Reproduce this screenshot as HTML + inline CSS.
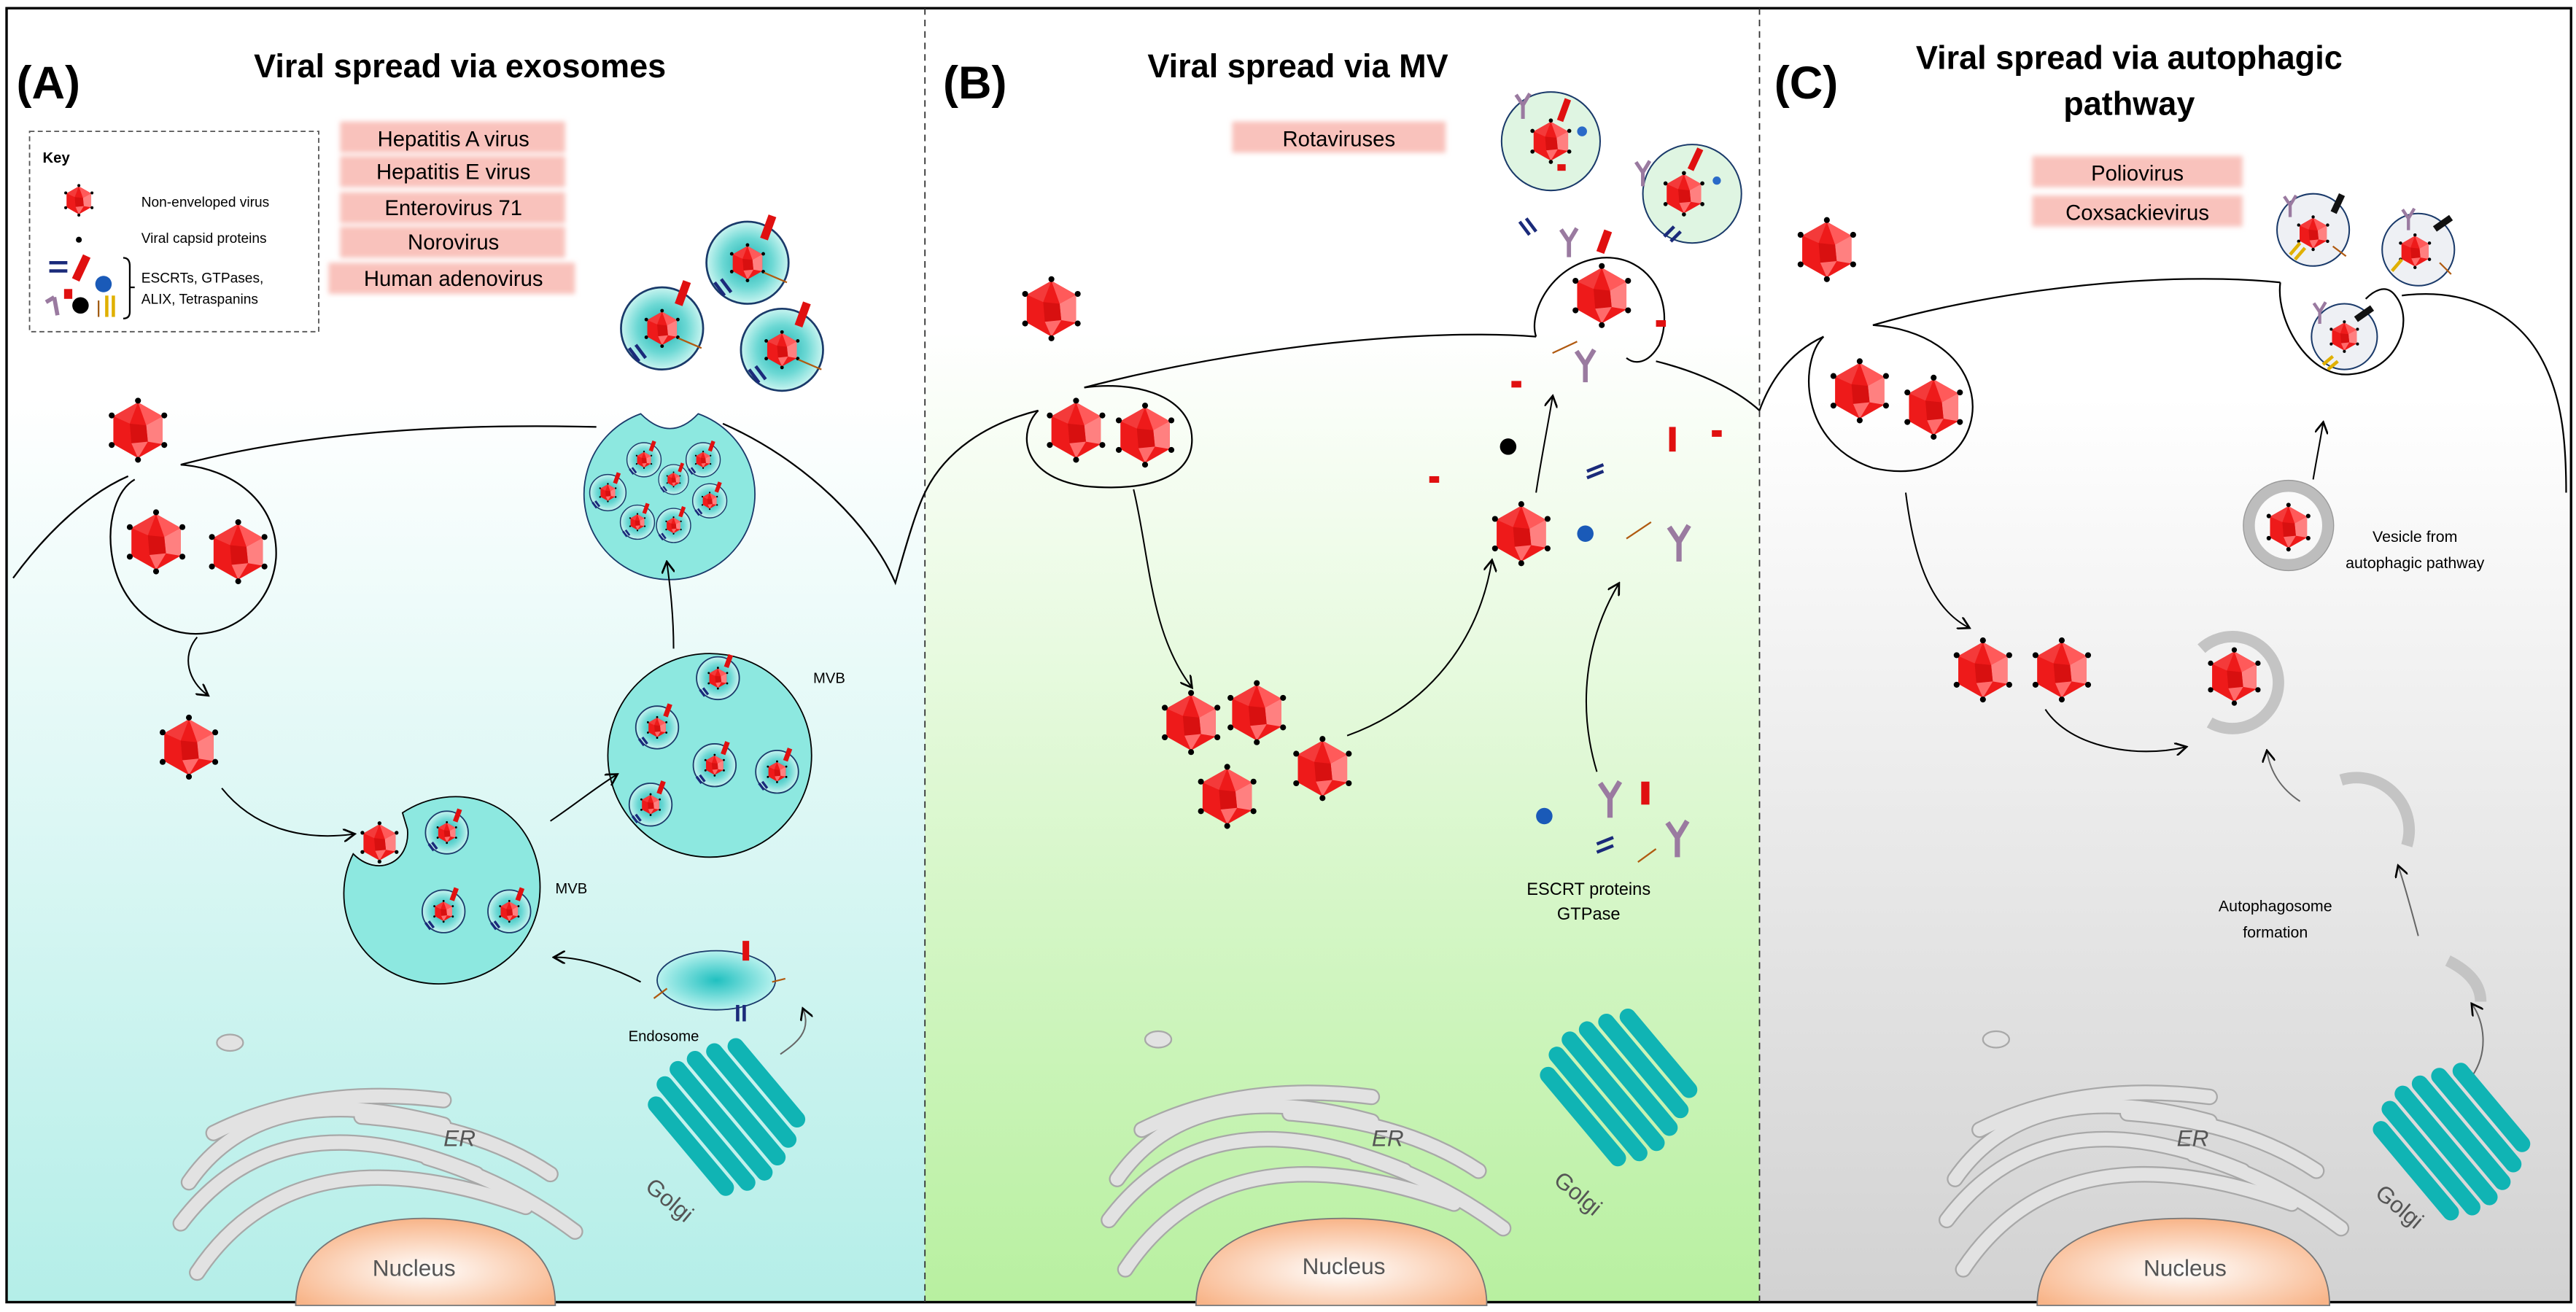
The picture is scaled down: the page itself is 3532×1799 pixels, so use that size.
<!DOCTYPE html>
<html><head><meta charset="utf-8"><style>
html,body{margin:0;padding:0;background:#fff;}
svg{display:block;}
text{font-family:"Liberation Sans",Arial,sans-serif;}
</style></head><body>
<svg width="3532" height="1799" viewBox="0 0 1568 799" preserveAspectRatio="none" xmlns="http://www.w3.org/2000/svg">
<defs>
<linearGradient id="gA" x1="0" y1="0" x2="0" y2="1"><stop offset="0.3" stop-color="#ffffff"/><stop offset="1" stop-color="#b4eee8"/></linearGradient>
<linearGradient id="gB" x1="0" y1="0" x2="0" y2="1"><stop offset="0.25" stop-color="#ffffff"/><stop offset="1" stop-color="#b8f0a0"/></linearGradient>
<linearGradient id="gC" x1="0" y1="0" x2="0" y2="1"><stop offset="0.3" stop-color="#ffffff"/><stop offset="1" stop-color="#d2d2d2"/></linearGradient>
<radialGradient id="gN" cx="0.5" cy="0.6" r="0.6"><stop offset="0" stop-color="#ffffff"/><stop offset="1" stop-color="#f8b488"/></radialGradient>
<radialGradient id="gT" cx="0.5" cy="0.5" r="0.5"><stop offset="0" stop-color="#20c0c0"/><stop offset="1" stop-color="#b8f2ee"/></radialGradient>
<radialGradient id="gT2" cx="0.5" cy="0.5" r="0.5"><stop offset="0" stop-color="#18b0b0"/><stop offset="0.6" stop-color="#6cd8d4"/><stop offset="1" stop-color="#c8f4f0"/></radialGradient>
<filter id="blur"><feGaussianBlur stdDeviation="1.5"/></filter>
<marker id="ar" markerWidth="8" markerHeight="8" refX="6" refY="4" orient="auto" markerUnits="userSpaceOnUse"><path d="M0,0 L7,4 L0,8" fill="none" stroke="#000" stroke-width="1.2"/></marker>
<g id="v">
<polygon points="0,-17 15,-8.5 15,8.5 0,17 -15,8.5 -15,-8.5" fill="#ee1a1a"/>
<polygon points="0,-17 15,-8.5 5,-3" fill="#ff5a5a"/>
<polygon points="5,-3 15,-8.5 15,8.5 6,7" fill="#ff8080"/>
<polygon points="-15,-8.5 0,-17 -5,-4" fill="#f43a3a"/>
<polygon points="-5,-4 5,-3 6,7 -4,8" fill="#d81010"/>
<polygon points="-4,8 6,7 0,17" fill="#ff6b6b"/>
<circle cx="0" cy="-18" r="1.8" fill="#000"/><circle cx="16" cy="-9" r="1.8" fill="#000"/><circle cx="16" cy="9" r="1.8" fill="#000"/><circle cx="0" cy="18" r="1.8" fill="#000"/><circle cx="-16" cy="9" r="1.8" fill="#000"/><circle cx="-16" cy="-9" r="1.8" fill="#000"/>
</g>
<g id="golgi" fill="#10b4b4">
<rect x="-5" y="-38" width="10" height="76" rx="5" transform="rotate(-40) translate(-28,0)"/>
<rect x="-5" y="-44" width="10" height="88" rx="5" transform="rotate(-40) translate(-16,0)"/>
<rect x="-5" y="-46" width="10" height="92" rx="5" transform="rotate(-40) translate(-4,0)"/>
<rect x="-5" y="-44" width="10" height="88" rx="5" transform="rotate(-40) translate(8,0)"/>
<rect x="-5" y="-40" width="10" height="80" rx="5" transform="rotate(-40) translate(20,0)"/>
<rect x="-5" y="-34" width="10" height="68" rx="5" transform="rotate(-40) translate(32,0)"/>
</g>
<g id="er" fill="none" stroke-linecap="round">
<g stroke="#a8a8a8" stroke-width="10">
<path d="M-110,50 Q-50,-40 90,10"/><path d="M-120,20 Q-60,-60 60,-10"/><path d="M-115,-5 Q-70,-70 40,-40"/><path d="M-100,-35 Q-40,-65 40,-55"/><path d="M-10,-45 Q60,-40 105,-10"/><path d="M30,-20 Q80,-5 120,25"/>
</g>
<g stroke="#e2e2e2" stroke-width="8">
<path d="M-110,50 Q-50,-40 90,10"/><path d="M-120,20 Q-60,-60 60,-10"/><path d="M-115,-5 Q-70,-70 40,-40"/><path d="M-100,-35 Q-40,-65 40,-55"/><path d="M-10,-45 Q60,-40 105,-10"/><path d="M30,-20 Q80,-5 120,25"/>
</g>
<ellipse cx="-90" cy="-90" rx="8" ry="5" fill="#e2e2e2" stroke="#a8a8a8" stroke-width="1"/>
</g>
<g id="ves">
<circle r="25" fill="url(#gT2)" stroke="#1a3a6a" stroke-width="1.2"/>
<g transform="scale(0.6)"><use href="#v"/></g>
<rect x="2" y="-32" width="5" height="15" fill="#e01010" transform="rotate(20)"/>
<line x1="10" y1="6" x2="24" y2="12" stroke="#b05a10" stroke-width="1"/>
<g stroke="#1a2a7a" stroke-width="2"><line x1="-20" y1="12" x2="-14" y2="20"/><line x1="-16" y1="10" x2="-10" y2="18"/></g>
</g>
<g id="mini">
<circle r="13" fill="url(#gT2)" stroke="#1a3a6a" stroke-width="0.8"/>
<g transform="scale(0.35)"><use href="#v"/></g>
<rect x="1" y="-16" width="3" height="8" fill="#e01010" transform="rotate(20)"/>
<g stroke="#1a2a7a" stroke-width="1.5"><line x1="-11" y1="7" x2="-8" y2="11"/><line x1="-9" y1="6" x2="-6" y2="10"/></g>
</g>
<g id="Y"><path d="M0,12 L0,0 L-6,-9 M0,0 L6,-10" stroke="#9a7aa0" stroke-width="3.2" fill="none"/></g>
</defs>

<rect x="4" y="5" width="559" height="788" fill="url(#gA)"/>
<rect x="563" y="5" width="508" height="788" fill="url(#gB)"/>
<rect x="1071" y="5" width="494" height="788" fill="url(#gC)"/>
<rect x="4" y="5" width="1561" height="788" fill="none" stroke="#000" stroke-width="1.5"/>
<line x1="563" y1="5" x2="563" y2="793" stroke="#333" stroke-width="0.8" stroke-dasharray="4,3"/>
<line x1="1071" y1="5" x2="1071" y2="793" stroke="#333" stroke-width="0.8" stroke-dasharray="4,3"/>

<text x="10" y="60" font-size="28" font-weight="bold">(A)</text>
<text x="280" y="47" font-size="20" font-weight="bold" text-anchor="middle">Viral spread via exosomes</text>
<text x="574" y="60" font-size="28" font-weight="bold">(B)</text>
<text x="790" y="47" font-size="20" font-weight="bold" text-anchor="middle">Viral spread via MV</text>
<text x="1080" y="60" font-size="28" font-weight="bold">(C)</text>
<text x="1296" y="42" font-size="20" font-weight="bold" text-anchor="middle">Viral spread via autophagic</text>
<text x="1296" y="70" font-size="20" font-weight="bold" text-anchor="middle">pathway</text>

<g fill="#f9c2bc" filter="url(#blur)">
<rect x="207" y="74" width="137" height="19"/><rect x="207" y="95" width="137" height="19"/><rect x="207" y="117" width="137" height="19"/><rect x="207" y="138" width="137" height="19"/><rect x="200" y="160" width="150" height="19"/>
<rect x="750" y="74" width="130" height="19"/>
<rect x="1237" y="95" width="128" height="19"/><rect x="1237" y="119" width="128" height="19"/>
</g>
<g font-size="13" text-anchor="middle">
<text x="276" y="89">Hepatitis A virus</text><text x="276" y="109">Hepatitis E virus</text><text x="276" y="131">Enterovirus 71</text><text x="276" y="152">Norovirus</text><text x="276" y="174">Human adenovirus</text>
<text x="815" y="89">Rotaviruses</text>
<text x="1301" y="110">Poliovirus</text><text x="1301" y="134">Coxsackievirus</text>
</g>

<rect x="18" y="80" width="176" height="122" fill="#fff" stroke="#555" stroke-width="0.8" stroke-dasharray="3,2"/>
<text x="26" y="99" font-size="9" font-weight="bold">Key</text>
<g transform="translate(48,122) scale(0.5)"><use href="#v"/></g>
<text x="86" y="126" font-size="8.5">Non-enveloped virus</text>
<circle cx="48" cy="146" r="1.8" fill="#000"/>
<text x="86" y="148" font-size="8.5">Viral capsid proteins</text>
<text x="86" y="172" font-size="8.5">ESCRTs, GTPases,</text>
<text x="86" y="185" font-size="8.5">ALIX, Tetraspanins</text>
<g stroke="#1a2a7a" stroke-width="2"><line x1="30" y1="160" x2="41" y2="160"/><line x1="30" y1="165" x2="41" y2="165"/></g>
<rect x="47" y="155" width="5" height="16" fill="#e01010" transform="rotate(25 49 163)"/>
<circle cx="63" cy="173" r="5" fill="#1a5ab8"/>
<rect x="39" y="176" width="5" height="6" fill="#e01010"/>
<circle cx="49" cy="186" r="5" fill="#000"/>
<path d="M35,192 L33,181 M33,181 L28,184" stroke="#9a7aa0" stroke-width="2.5" fill="none"/>
<g stroke="#e0b000" stroke-width="2"><line x1="65" y1="180" x2="65" y2="193"/><line x1="69" y1="180" x2="69" y2="193"/></g>
<line x1="60" y1="183" x2="60" y2="193" stroke="#a05a10" stroke-width="1"/>
<path d="M75,157 Q79,157 79,162 L79,190 Q79,194 75,194 M79,175 L82,175" fill="none" stroke="#000" stroke-width="1"/>

<!-- Panel A -->
<path d="M8,352 C30,322 55,300 78,290" fill="none" stroke="#000" stroke-width="1"/>
<path d="M82,292 C60,305 60,365 100,382 C130,395 165,375 168,340 C170,305 140,285 110,283" fill="none" stroke="#000" stroke-width="1"/>
<path d="M110,283 C190,262 280,258 363,260" fill="none" stroke="#000" stroke-width="1"/>
<path d="M440,258 C490,280 530,320 545,355 C552,330 558,310 563,300" fill="none" stroke="#000" stroke-width="1"/>
<use href="#v" x="84" y="262"/>
<use href="#v" x="95" y="330"/><use href="#v" x="145" y="336"/>
<use href="#v" x="115" y="455"/>
<path d="M245,495 C275,475 320,485 328,530 C335,580 290,605 255,598 C215,590 200,550 215,520 C230,535 250,525 248,505 Z" fill="#8de8e0" stroke="#000" stroke-width="0.8"/>
<g transform="translate(231,513) scale(0.65)"><use href="#v"/></g>
<g transform="translate(272,507)"><use href="#mini"/></g>
<g transform="translate(270,555)"><use href="#mini"/></g>
<g transform="translate(310,555)"><use href="#mini"/></g>
<text x="338" y="544" font-size="9">MVB</text>
<ellipse cx="436" cy="597" rx="36" ry="18" fill="url(#gT)" stroke="#1a3a6a" stroke-width="0.8"/>
<rect x="452" y="573" width="4" height="12" fill="#e01010"/>
<g stroke="#1a2a7a" stroke-width="2"><line x1="449" y1="612" x2="449" y2="622"/><line x1="453" y1="612" x2="453" y2="622"/></g>
<line x1="398" y1="608" x2="406" y2="602" stroke="#b05a10"/>
<line x1="470" y1="598" x2="478" y2="596" stroke="#b05a10"/>
<circle cx="432" cy="460" r="62" fill="#8de8e0" stroke="#000" stroke-width="0.8"/>
<g transform="translate(400,443)"><use href="#mini"/></g>
<g transform="translate(437,413)"><use href="#mini"/></g>
<g transform="translate(435,466)"><use href="#mini"/></g>
<g transform="translate(473,470)"><use href="#mini"/></g>
<g transform="translate(396,490)"><use href="#mini"/></g>
<text x="495" y="416" font-size="9">MVB</text>
<path d="M390,252 A52,52 0 1 0 425,252 Q408,270 390,252 Z" fill="#8de8e0" stroke="#1a3a6a" stroke-width="0.8"/>
<g transform="translate(370,300) scale(0.85)"><use href="#mini"/></g>
<g transform="translate(392,280) scale(0.8)"><use href="#mini"/></g>
<g transform="translate(428,280) scale(0.8)"><use href="#mini"/></g>
<g transform="translate(432,305) scale(0.8)"><use href="#mini"/></g>
<g transform="translate(410,320) scale(0.8)"><use href="#mini"/></g>
<g transform="translate(388,318) scale(0.8)"><use href="#mini"/></g>
<g transform="translate(410,292) scale(0.7)"><use href="#mini"/></g>
<g transform="translate(455,160)"><use href="#ves"/></g>
<g transform="translate(403,200)"><use href="#ves"/></g>
<g transform="translate(476,213)"><use href="#ves"/></g>
<g fill="none" stroke="#000" stroke-width="0.9" marker-end="url(#ar)">
<path d="M120,388 C110,400 115,415 126,423"/>
<path d="M135,480 C155,505 185,512 215,508"/>
<path d="M390,598 C375,590 355,583 338,583"/>
<path d="M335,500 C350,490 362,480 375,472"/>
<path d="M410,395 C410,375 408,358 406,343"/>
</g>
<g transform="translate(230,725)"><use href="#er"/></g>
<text x="270" y="698" font-size="14" fill="#555" font-style="italic">ER</text>
<path d="M180,795 C180,750 230,742 258,742 C290,742 338,750 338,795 Z" fill="url(#gN)" stroke="#777" stroke-width="0.8"/>
<text x="252" y="777" font-size="14" fill="#555" text-anchor="middle">Nucleus</text>
<g transform="translate(442,680)"><use href="#golgi"/></g>
<text x="0" y="0" font-size="14" fill="#555" transform="translate(392,724) rotate(40)">Golgi</text>
<text x="404" y="634" font-size="9" text-anchor="middle">Endosome</text>
<path d="M475,642 C485,635 494,628 489,615" fill="none" stroke="#666" stroke-width="0.9" marker-end="url(#ar)"/>

<!-- Panel B -->
<path d="M563,300 C575,275 600,258 632,250" fill="none" stroke="#000" stroke-width="1"/>
<path d="M632,250 C620,262 620,290 660,296 C700,300 730,290 725,262 C720,240 690,232 660,236" fill="none" stroke="#000" stroke-width="1"/>
<path d="M660,236 C760,210 870,200 935,205" fill="none" stroke="#000" stroke-width="1"/>
<path d="M935,205 C930,190 945,160 975,157 C1005,155 1020,185 1010,210 C1003,222 995,222 990,218" fill="none" stroke="#000" stroke-width="1"/>
<path d="M1008,220 C1040,228 1060,240 1071,250" fill="none" stroke="#000" stroke-width="1"/>
<use href="#v" x="640" y="188"/>
<use href="#v" x="655" y="262"/><use href="#v" x="697" y="265"/>
<use href="#v" x="725" y="440"/><use href="#v" x="765" y="434"/><use href="#v" x="747" y="485"/><use href="#v" x="805" y="468"/>
<use href="#v" x="926" y="325"/>
<use href="#v" x="975" y="180"/>
<rect x="974" y="140" width="5" height="14" fill="#e01010" transform="rotate(20 976 147)"/>
<g transform="translate(955,147) scale(0.8)"><use href="#Y"/></g>
<circle cx="944" cy="86" r="30" fill="#dff5e2" stroke="#1a3a6a" stroke-width="0.9"/>
<g transform="translate(944,86) scale(0.7)"><use href="#v"/></g>
<rect x="950" y="60" width="4" height="14" fill="#e01010" transform="rotate(20 952 67)"/>
<circle cx="963" cy="80" r="3" fill="#2a6ac8"/><rect x="948" y="100" width="5" height="4" fill="#e01010"/>
<g transform="translate(927,64) scale(0.7)"><use href="#Y"/></g>
<circle cx="1030" cy="118" r="30" fill="#dff5e2" stroke="#1a3a6a" stroke-width="0.9"/>
<g transform="translate(1025,118) scale(0.7)"><use href="#v"/></g>
<rect x="1030" y="90" width="4" height="14" fill="#e01010" transform="rotate(25 1032 97)"/>
<circle cx="1045" cy="110" r="2.5" fill="#2a6ac8"/>
<g transform="translate(1000,105) scale(0.7)"><use href="#Y"/></g>
<g stroke="#1a2a7a" stroke-width="2"><line x1="925" y1="135" x2="931" y2="143"/><line x1="929" y1="133" x2="935" y2="141"/><line x1="1013" y1="144" x2="1019" y2="138"/><line x1="1017" y1="147" x2="1023" y2="141"/><line x1="966" y1="287" x2="976" y2="283"/><line x1="966" y1="291" x2="976" y2="287"/></g>
<rect x="1016" y="260" width="4" height="15" fill="#e01010"/>
<rect x="1042" y="262" width="6" height="4" fill="#e01010"/>
<rect x="920" y="232" width="6" height="4" fill="#e01010"/>
<rect x="870" y="290" width="6" height="4" fill="#e01010"/>
<circle cx="918" cy="272" r="5" fill="#000"/>
<circle cx="965" cy="325" r="5" fill="#1a5ab8"/>
<line x1="990" y1="328" x2="1005" y2="318" stroke="#b05a10"/>
<g transform="translate(1022,330)"><use href="#Y"/></g>
<g transform="translate(965,222) scale(0.9)"><use href="#Y"/></g>
<rect x="1008" y="195" width="6" height="4" fill="#e01010"/>
<line x1="945" y1="215" x2="960" y2="208" stroke="#b05a10"/>
<g transform="translate(980,486)"><use href="#Y"/></g>
<rect x="999" y="476" width="5" height="14" fill="#e01010"/>
<circle cx="940" cy="497" r="5" fill="#1a5ab8"/>
<g stroke="#1a2a7a" stroke-width="2"><line x1="972" y1="514" x2="982" y2="510"/><line x1="972" y1="519" x2="982" y2="515"/></g>
<g transform="translate(1021,510)"><use href="#Y"/></g>
<line x1="997" y1="525" x2="1008" y2="517" stroke="#b05a10"/>
<text x="967" y="545" font-size="10.5" text-anchor="middle">ESCRT proteins</text>
<text x="967" y="560" font-size="10.5" text-anchor="middle">GTPase</text>
<g fill="none" stroke="#000" stroke-width="0.9" marker-end="url(#ar)">
<path d="M690,298 C700,340 700,385 725,418"/>
<path d="M820,448 C870,430 900,390 908,342"/>
<path d="M935,300 C938,280 942,260 945,242"/>
<path d="M972,470 C960,430 965,390 985,356"/>
</g>
<g transform="translate(795,723)"><use href="#er"/></g>
<text x="835" y="698" font-size="14" fill="#555" font-style="italic">ER</text>
<path d="M728,795 C728,750 780,742 818,742 C855,742 905,750 905,795 Z" fill="url(#gN)" stroke="#777" stroke-width="0.8"/>
<text x="818" y="776" font-size="14" fill="#555" text-anchor="middle">Nucleus</text>
<g transform="translate(985,662)"><use href="#golgi"/></g>
<text x="0" y="0" font-size="14" fill="#555" transform="translate(945,720) rotate(40)">Golgi</text>

<!-- Panel C -->
<path d="M1071,250 C1080,225 1095,212 1110,205" fill="none" stroke="#000" stroke-width="1"/>
<path d="M1110,205 C1095,220 1095,270 1140,285 C1185,295 1205,265 1200,240 C1195,215 1170,200 1140,198" fill="none" stroke="#000" stroke-width="1"/>
<path d="M1140,198 C1220,175 1320,165 1388,172" fill="none" stroke="#000" stroke-width="1"/>
<path d="M1388,172 C1385,195 1405,230 1430,228 C1460,226 1470,195 1458,180 C1452,172 1444,178 1440,182" fill="none" stroke="#000" stroke-width="1"/>
<path d="M1462,180 C1500,175 1530,190 1545,215 C1560,240 1562,270 1562,300" fill="none" stroke="#000" stroke-width="1"/>
<use href="#v" x="1112" y="152"/>
<use href="#v" x="1132" y="238"/><use href="#v" x="1177" y="248"/>
<use href="#v" x="1207" y="408"/><use href="#v" x="1255" y="408"/>
<g>
<circle cx="1408" cy="140" r="22" fill="#eef0f4" stroke="#1a3a6a" stroke-width="0.9"/>
<g transform="translate(1408,142) scale(0.55)"><use href="#v"/></g>
<circle cx="1472" cy="152" r="22" fill="#eef0f4" stroke="#1a3a6a" stroke-width="0.9"/>
<g transform="translate(1470,153) scale(0.55)"><use href="#v"/></g>
<circle cx="1427" cy="205" r="20" fill="#eef0f4" stroke="#1a3a6a" stroke-width="0.9"/>
<g transform="translate(1427,205) scale(0.5)"><use href="#v"/></g>
<rect x="1421" y="118" width="4" height="12" fill="#111" transform="rotate(25 1423 124)"/>
<rect x="1485" y="130" width="4" height="12" fill="#111" transform="rotate(55 1487 136)"/>
<rect x="1437" y="185" width="4" height="12" fill="#111" transform="rotate(55 1439 191)"/>
<g transform="translate(1394,125) scale(0.6)"><use href="#Y"/></g>
<g transform="translate(1466,133) scale(0.6)"><use href="#Y"/></g>
<g transform="translate(1412,190) scale(0.6)"><use href="#Y"/></g>
<g stroke="#e0b000" stroke-width="2"><line x1="1394" y1="155" x2="1400" y2="148"/><line x1="1397" y1="158" x2="1403" y2="151"/><line x1="1456" y1="165" x2="1462" y2="158"/><line x1="1414" y1="222" x2="1420" y2="217"/><line x1="1417" y1="225" x2="1423" y2="220"/></g>
<line x1="1485" y1="160" x2="1492" y2="167" stroke="#b05a10"/>
<line x1="1420" y1="150" x2="1428" y2="156" stroke="#b05a10"/>
</g>
<circle cx="1393" cy="320" r="24" fill="none" stroke="#bdbdbd" stroke-width="7"/>
<circle cx="1393" cy="320" r="27.5" fill="none" stroke="#999" stroke-width="0.6"/>
<g transform="translate(1393,321) scale(0.75)"><use href="#v"/></g>
<text x="1470" y="330" font-size="9.5" text-anchor="middle">Vesicle from</text>
<text x="1470" y="346" font-size="9.5" text-anchor="middle">autophagic pathway</text>
<path d="M1340,395 A28,28 0 1 1 1345,440" fill="none" stroke="#c4c4c4" stroke-width="7"/>
<g transform="translate(1360,412) scale(0.9)"><use href="#v"/></g>
<path d="M1425,475 A32,32 0 0 1 1465,515" fill="none" stroke="#c4c4c4" stroke-width="7"/>
<path d="M1490,585 Q1510,595 1510,610 " fill="none" stroke="#c4c4c4" stroke-width="7"/>
<text x="1385" y="555" font-size="9.5" text-anchor="middle">Autophagosome</text>
<text x="1385" y="571" font-size="9.5" text-anchor="middle">formation</text>
<g fill="none" stroke="#000" stroke-width="0.9" marker-end="url(#ar)">
<path d="M1160,300 C1165,340 1175,370 1198,382"/>
<path d="M1245,432 C1260,455 1300,462 1330,455"/>
<path d="M1408,292 C1410,280 1412,270 1414,258"/>
</g>
<g fill="none" stroke="#666" stroke-width="0.9" marker-end="url(#ar)">
<path d="M1400,488 C1388,480 1382,470 1380,458"/>
<path d="M1472,570 C1468,555 1464,540 1460,528"/>
<path d="M1505,655 C1515,640 1512,622 1505,612"/>
</g>
<g transform="translate(1305,723)"><use href="#er"/></g>
<text x="1325" y="698" font-size="14" fill="#555" font-style="italic">ER</text>
<path d="M1240,795 C1240,750 1292,742 1330,742 C1368,742 1418,750 1418,795 Z" fill="url(#gN)" stroke="#777" stroke-width="0.8"/>
<text x="1330" y="777" font-size="14" fill="#555" text-anchor="middle">Nucleus</text>
<g transform="translate(1492,695)"><use href="#golgi"/></g>
<text x="0" y="0" font-size="14" fill="#555" transform="translate(1445,728) rotate(40)">Golgi</text>
</svg>
</body></html>
